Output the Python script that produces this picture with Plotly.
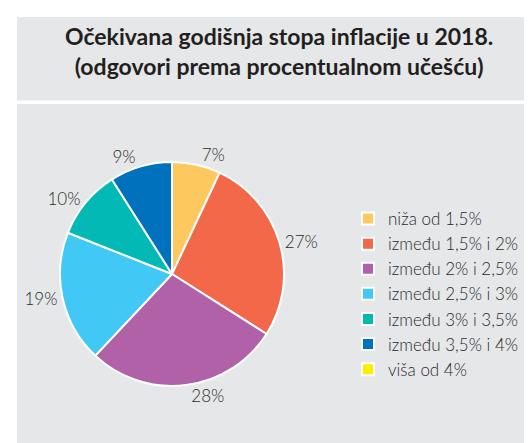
import plotly.graph_objects as go

categories = ["niža od 1,5%", "između 1,5% i 2%", "između 2% i 2,5%", "između 2,5% i 3%",
              "između 3% i 3,5%", "između 3,5% i 4%", "viša od 4%"]
values = [7, 27, 28, 19, 10, 9, 0]
colors = ["#FDC95E", "#F26849", "#B061A8", "#41C8F4", "#03B9B5", "#0071BC", "#FFED00"]
labels_text = [f"{v}%" if v else "" for v in values]

W, H = 532, 443
GRAY = "#E6E7E8"
FONT = "Lato"
TXT = "#2B2B2B"

cx, cy, r = 164, 177, 112  # pixel centre (cy from bottom) and radius of pie domain

fig = go.Figure()
fig.add_trace(go.Pie(
    labels=categories, values=values, sort=False, direction="clockwise", rotation=0,
    marker=dict(colors=colors, line=dict(color="white", width=2)),
    text=labels_text, textinfo="text", textposition="outside",
    textfont=dict(family=FONT, size=17, color=TXT, weight=300),
    domain=dict(x=[(cx - r) / W, (cx + r) / W], y=[(cy - r) / H, (cy + r) / H]),
    hoverinfo="label+value", showlegend=True,
))

fig.update_layout(
    width=W, height=H, margin=dict(l=0, r=0, t=0, b=0),
    paper_bgcolor="white", plot_bgcolor="white",
    font=dict(family=FONT),
    shapes=[
        dict(type="rect", xref="paper", yref="paper", x0=9 / W, x1=1, y0=1 - 9 / H, y1=1 - 92.5 / H,
             fillcolor=GRAY, line=dict(width=0), layer="below"),
        dict(type="rect", xref="paper", yref="paper", x0=9 / W, x1=1, y0=0, y1=1 - 96 / H,
             fillcolor=GRAY, line=dict(width=0), layer="below"),
    ],
    annotations=[
        dict(text="<b>Očekivana godišnja stopa inflacije u 2018.<br>(odgovori prema procentualnom učešću)</b>",
             x=(9 + W) / 2 / W, y=1 - 43 / H, xref="paper", yref="paper", showarrow=False,
             xanchor="center", yanchor="middle",
             font=dict(family=FONT, size=23, color="#231F20")),
    ],
    legend=dict(x=340 / W, y=1 - 193 / H, xanchor="left", yanchor="top", itemwidth=30,
                bgcolor="rgba(0,0,0,0)", font=dict(family=FONT, size=17, color=TXT, weight=300),
                traceorder="normal"),
)

fig.write_html("out.html")
